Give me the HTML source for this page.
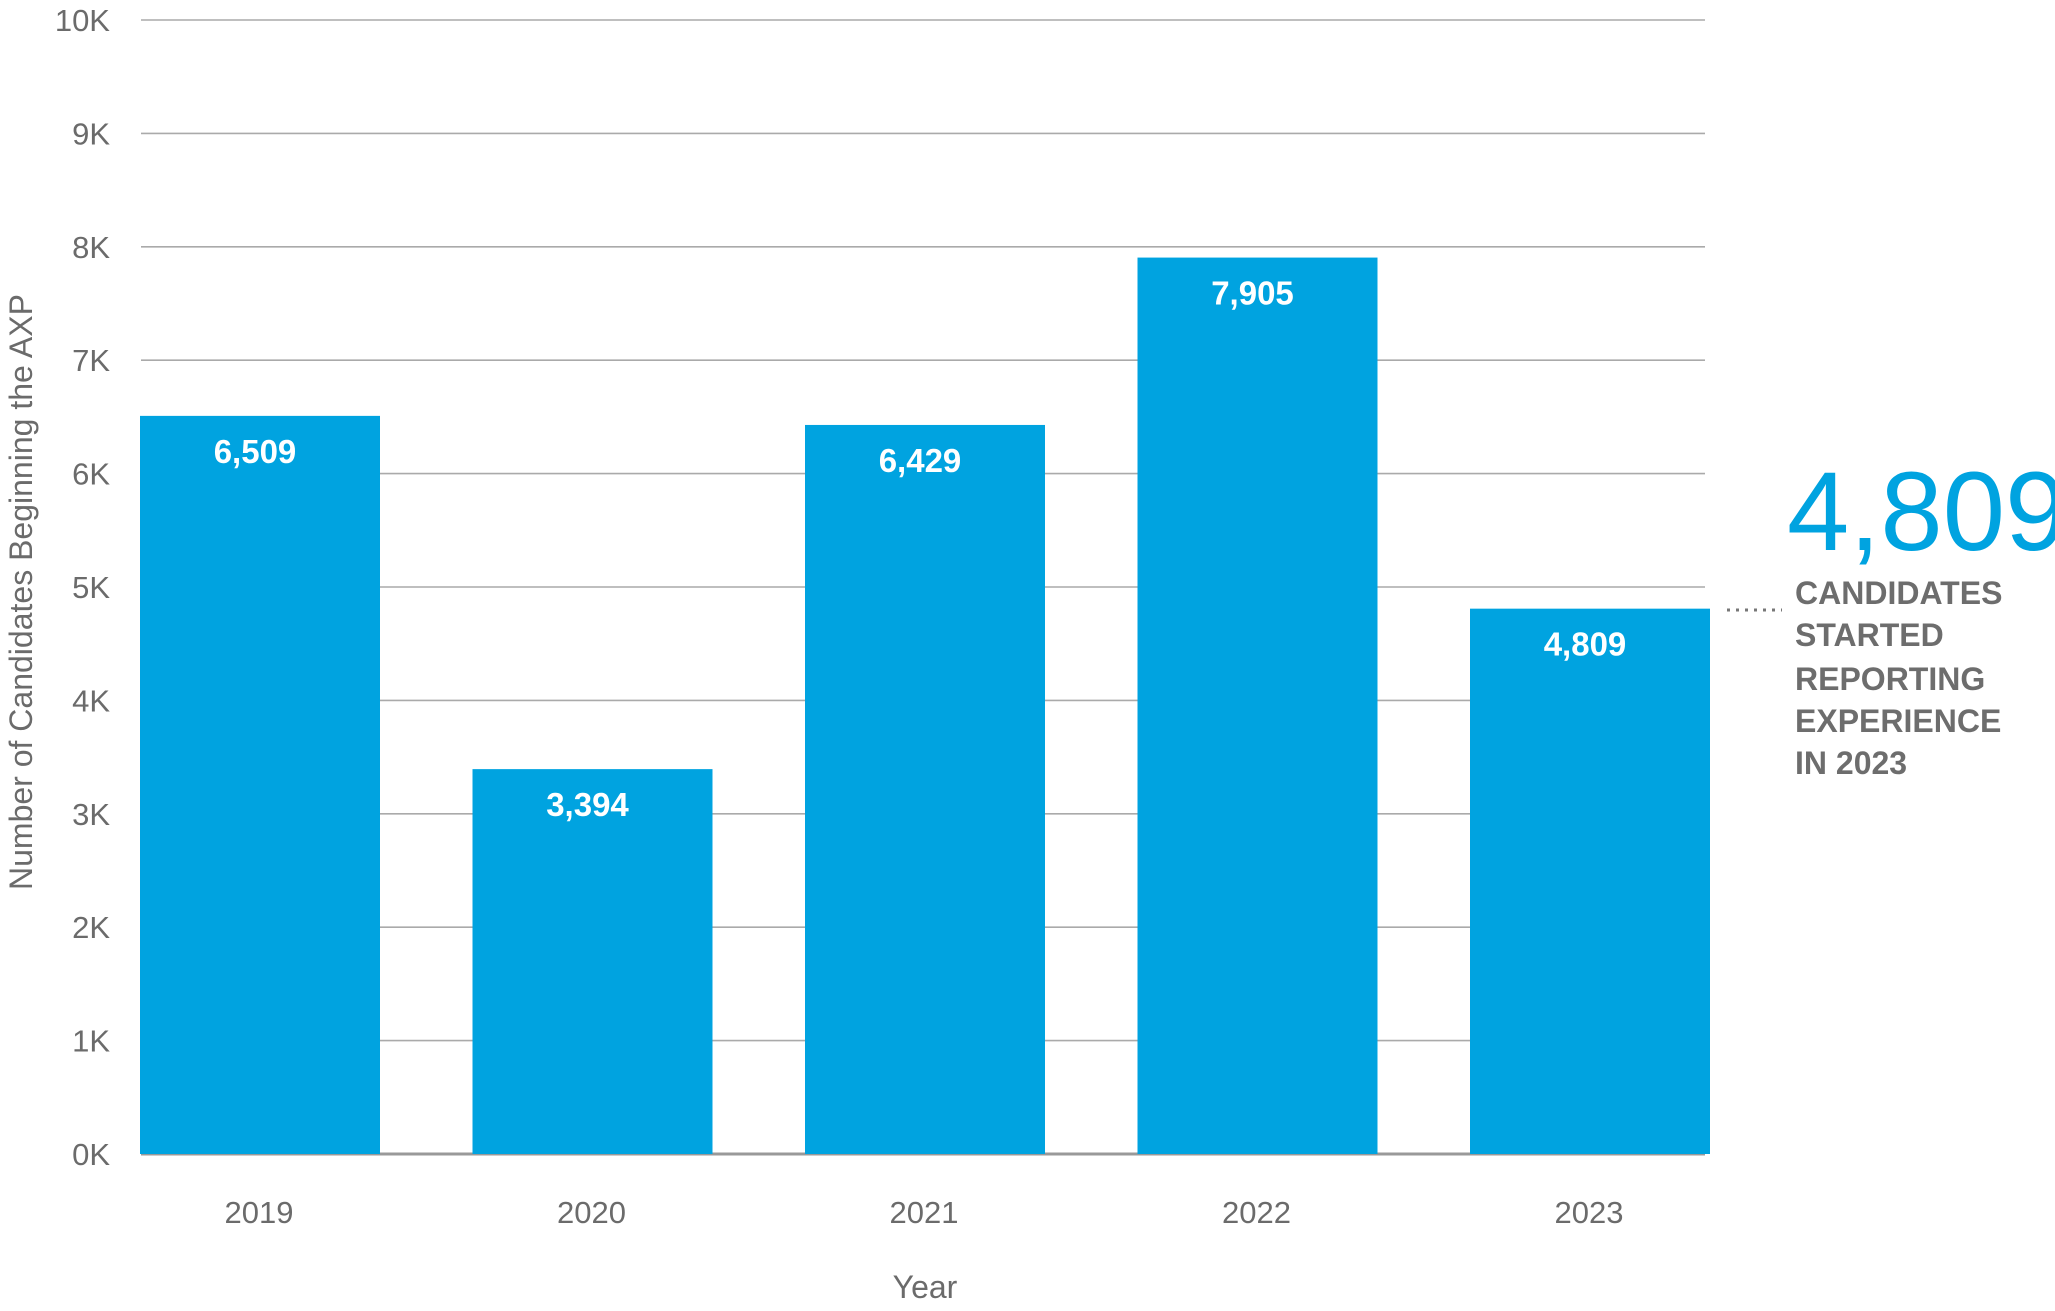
<!DOCTYPE html>
<html><head><meta charset="utf-8"><style>
html,body{margin:0;padding:0;background:#fff;}
svg{display:block;font-family:"Liberation Sans",sans-serif;}
</style></head><body>
<svg id="chart" width="2055" height="1311" viewBox="0 0 2055 1311">
<g id="grid"></g>
<g id="bars"></g>
<g id="xlabels"></g>
<text x="925" y="1298" text-anchor="middle" font-size="32" fill="#6b6b6b">Year</text>
<text transform="translate(32,592) rotate(-90)" text-anchor="middle" font-size="32" fill="#6b6b6b">Number of Candidates Beginning the AXP</text>
<line x1="1727" y1="610" x2="1782" y2="610" stroke="#777" stroke-width="3" stroke-dasharray="3,6"/>
<text x="1787" y="550" font-size="112" fill="#00a3e0">4,809</text>
<g font-size="32" font-weight="bold" fill="#6d6d6d">
<text x="1795" y="604">CANDIDATES</text>
<text x="1795" y="646">STARTED</text>
<text x="1795" y="690">REPORTING</text>
<text x="1795" y="732">EXPERIENCE</text>
<text x="1795" y="774">IN 2023</text>
</g>
</svg>
<script>
const categories = ["2019","2020","2021","2022","2023"];
const values = [6509,3394,6429,7905,4809];
const valueLabels = ["6,509","3,394","6,429","7,905","4,809"];
const yTicks = [0,1000,2000,3000,4000,5000,6000,7000,8000,9000,10000];
const yTickLabels = ["0K","1K","2K","3K","4K","5K","6K","7K","8K","9K","10K"];
const NS="http://www.w3.org/2000/svg";
const y0=1154, y1=20, yMax=10000;
const y=v=>y0-(y0-y1)*v/yMax;
const step=332.5, barW=240, left=140;
const x=i=>left+i*step;
const grid=document.getElementById('grid');
yTicks.forEach((t,i)=>{
  const l=document.createElementNS(NS,'line');
  l.setAttribute('x1',141);l.setAttribute('x2',1705);
  l.setAttribute('y1',y(t));l.setAttribute('y2',y(t));
  l.setAttribute('stroke',t===0?'#999':'#aaa');l.setAttribute('stroke-width',t===0?3:1.6);
  
  
  grid.appendChild(l);
  const tx=document.createElementNS(NS,'text');
  tx.setAttribute('x',110);tx.setAttribute('y',y(t)+11);
  tx.setAttribute('text-anchor','end');tx.setAttribute('font-size','31');tx.setAttribute('fill','#6b6b6b');
  tx.textContent=yTickLabels[i];
  
  
  grid.appendChild(tx);
});
const bars=document.getElementById('bars');
const xl=document.getElementById('xlabels');
values.forEach((v,i)=>{
  const r=document.createElementNS(NS,'rect');
  r.setAttribute('x',x(i));r.setAttribute('y',y(v));
  r.setAttribute('width',barW);r.setAttribute('height',y0-y(v));
  r.setAttribute('fill','#00a3e0');
  
  
  bars.appendChild(r);
  const t=document.createElementNS(NS,'text');
  t.setAttribute('x',x(i)+barW/2-5);t.setAttribute('y',y(v)+47);
  t.setAttribute('text-anchor','middle');t.setAttribute('font-size','33');
  t.setAttribute('font-weight','bold');t.setAttribute('fill','#fff');
  t.textContent=valueLabels[i];
  
  
  bars.appendChild(t);
  const c=document.createElementNS(NS,'text');
  c.setAttribute('x',x(i)+barW/2-1);c.setAttribute('y',1223);
  c.setAttribute('text-anchor','middle');c.setAttribute('font-size','31');c.setAttribute('fill','#6b6b6b');
  c.textContent=categories[i];
  
  
  xl.appendChild(c);
});
</script>
</body></html>
